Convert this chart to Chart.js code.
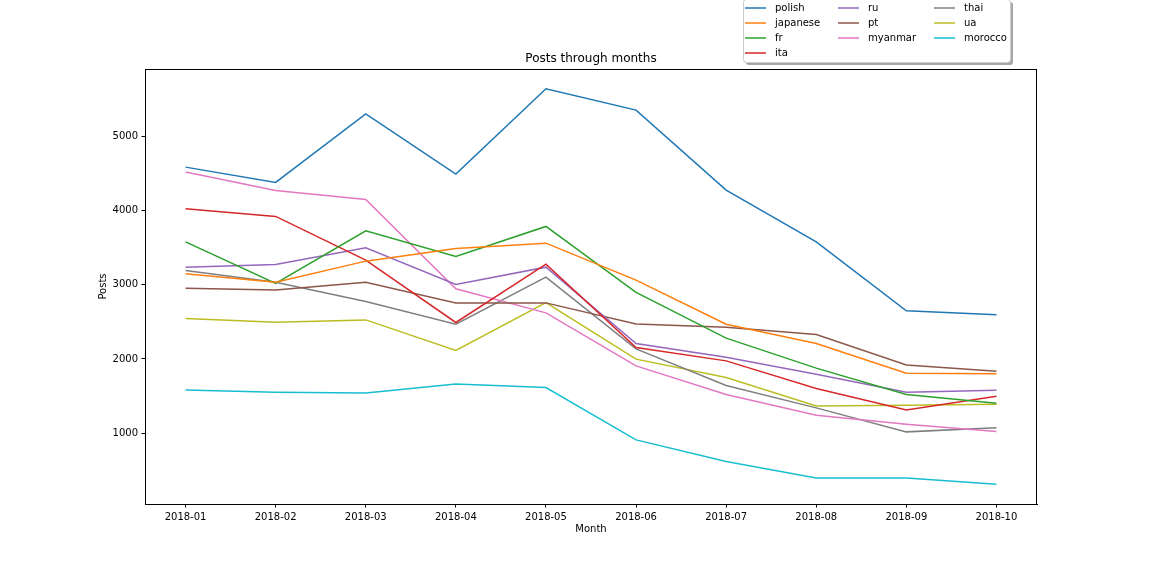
<!DOCTYPE html>
<html>
<head>
<meta charset="utf-8">
<script src="https://cdn.jsdelivr.net/npm/chart.js@4.4.1/dist/chart.umd.min.js"></script>
<style>html,body{margin:0;padding:0;background:#fff;}canvas{display:block;}</style>
</head>
<body>
<canvas id="c" width="1152" height="576"></canvas>
<script>
const months = ['2018-01','2018-02','2018-03','2018-04','2018-05','2018-06','2018-07','2018-08','2018-09','2018-10'];
const yTicks = [1000, 2000, 3000, 4000, 5000];
const seriesNames = ['polish','japanese','fr','ita','ru','pt','myanmar','thai','ua','morocco'];
const polish   = [4583, 4377, 5301, 4489, 5638, 5351, 4273, 3577, 2648, 2594];
const japanese = [3146, 3034, 3317, 3488, 3559, 3061, 2468, 2208, 1808, 1799];
const fr       = [3577, 3016, 3725, 3380, 3784, 2895, 2280, 1876, 1521, 1404];
const ita      = [4022, 3919, 3330, 2491, 3276, 2154, 1974, 1602, 1314, 1498];
const ru       = [3236, 3272, 3496, 3003, 3236, 2208, 2024, 1795, 1552, 1579];
const pt       = [2953, 2930, 3034, 2755, 2755, 2472, 2428, 2329, 1920, 1835];
const myanmar  = [4516, 4269, 4148, 2944, 2621, 1907, 1521, 1242, 1121, 1023];
const thai     = [3191, 3034, 2774, 2468, 3101, 2136, 1642, 1341, 1018, 1072];
const ua       = [2545, 2495, 2526, 2114, 2760, 1997, 1750, 1368, 1377, 1391];
const morocco  = [1583, 1552, 1543, 1664, 1615,  910,  619,  398,  398,  313];
const seriesValues = [polish, japanese, fr, ita, ru, pt, myanmar, thai, ua, morocco];
const colors = ['#1f77b4','#ff7f0e','#2ca02c','#d62728','#9467bd','#8c564b','#e377c2','#7f7f7f','#bcbd22','#17becf'];
const chartTitle = 'Posts through months';

const FONT = 'DejaVu Sans';
const all = seriesValues.flat();
const dMin = Math.min(...all), dMax = Math.max(...all);
const margin = (dMax - dMin) * 0.05;
const xMargin = (months.length - 1) * 0.05;

const datasets = seriesNames.map((name, i) => ({
  label: name,
  data: seriesValues[i].map((v, j) => ({x: j, y: v})),
  borderColor: colors[i],
  backgroundColor: colors[i],
  borderWidth: 1.5,
  pointRadius: 0,
  pointHoverRadius: 0,
  tension: 0,
  fill: false
}));

const framePlugin = {
  id: 'frame',
  beforeDraw(chart) {
    const ctx = chart.ctx;
    ctx.save();
    ctx.fillStyle = '#ffffff';
    ctx.fillRect(0, 0, chart.width, chart.height);
    ctx.restore();
  },
  afterDraw(chart) {
    const ctx = chart.ctx;
    const a = chart.chartArea;
    ctx.save();
    ctx.strokeStyle = '#000';
    ctx.lineWidth = 1;
    ctx.strokeRect(Math.round(a.left) + 0.5, Math.round(a.top) + 0.5, Math.round(a.right - a.left) - 1, Math.round(a.bottom - a.top));
    // title centred over the axes
    ctx.fillStyle = '#000';
    ctx.font = '12px "' + FONT + '"';
    ctx.textAlign = 'center';
    ctx.textBaseline = 'middle';
    ctx.fillText(chartTitle, (a.left + a.right) / 2, a.top - 10);
    ctx.restore();

    // legend (matplotlib style, 3 columns, column-major)
    const n = chart.data.datasets.length;
    const ncol = 3;
    const nrows = Math.ceil(n / ncol);
    const nLarge = n % ncol === 0 ? ncol : n % ncol;
    const colCounts = [];
    for (let c = 0; c < ncol; c++) colCounts.push(c < nLarge ? nrows : nrows - 1);
    const bx = 743, by = -1, bw = 267, bh = 63, r = 3;
    ctx.save();
    const rr = (x, y, w, h, rad) => {
      ctx.beginPath();
      ctx.moveTo(x + rad, y);
      ctx.lineTo(x + w - rad, y);
      ctx.quadraticCurveTo(x + w, y, x + w, y + rad);
      ctx.lineTo(x + w, y + h - rad);
      ctx.quadraticCurveTo(x + w, y + h, x + w - rad, y + h);
      ctx.lineTo(x + rad, y + h);
      ctx.quadraticCurveTo(x, y + h, x, y + h - rad);
      ctx.lineTo(x, y + rad);
      ctx.quadraticCurveTo(x, y, x + rad, y);
      ctx.closePath();
    };
    rr(bx + 3, by + 3, bw, bh, r);
    ctx.fillStyle = 'rgba(77,77,77,0.5)';
    ctx.fill();
    rr(bx + 0.5, by + 0.5, bw, bh, r);
    ctx.fillStyle = '#ffffff';
    ctx.fill();
    ctx.strokeStyle = '#cccccc';
    ctx.lineWidth = 1;
    ctx.stroke();
    const handleX = [745, 838, 934];
    const textX = [775, 868, 964];
    ctx.font = '10px "' + FONT + '"';
    ctx.textBaseline = 'middle';
    ctx.textAlign = 'left';
    let idx = 0;
    for (let c = 0; c < ncol; c++) {
      for (let rI = 0; rI < colCounts[c]; rI++) {
        const ds = chart.data.datasets[idx++];
        const y = 8 + rI * 15;
        ctx.strokeStyle = ds.borderColor;
        ctx.lineWidth = 1.5;
        ctx.beginPath();
        ctx.moveTo(handleX[c], y);
        ctx.lineTo(handleX[c] + 21, y);
        ctx.stroke();
        ctx.fillStyle = '#000';
        ctx.fillText(ds.label, textX[c], y);
      }
    }
    ctx.restore();
  }
};

new Chart(document.getElementById('c'), {
  type: 'line',
  data: { datasets },
  plugins: [framePlugin],
  options: {
    responsive: false,
    devicePixelRatio: 1,
    animation: false,
    events: [],
    layout: { padding: { left: 95, right: 115, top: 69, bottom: 22 } },
    plugins: {
      legend: { display: false },
      tooltip: { enabled: false },
      title: { display: false }
    },
    scales: {
      x: {
        type: 'linear',
        min: -xMargin,
        max: months.length - 1 + xMargin,
        afterBuildTicks: s => { s.ticks = months.map((_, i) => ({ value: i })); },
        afterFit: s => { s.height = 50; },
        ticks: {
          autoSkip: false,
          maxRotation: 0,
          minRotation: 0,
          padding: 3.5,
          color: '#000',
          font: { family: FONT, size: 10 },
          callback: v => months[v]
        },
        grid: { display: true, drawOnChartArea: false, drawTicks: true, tickLength: 3.5, color: '#000', tickWidth: 1 },
        border: { display: true, color: '#000', width: 1 },
        title: { display: true, text: 'Month', color: '#000', font: { family: FONT, size: 10, lineHeight: 1.2 }, padding: { top: 0, bottom: 19 } }
      },
      y: {
        type: 'linear',
        min: dMin - margin,
        max: dMax + margin,
        afterBuildTicks: s => { s.ticks = yTicks.map(v => ({ value: v })); },
        afterFit: s => { s.width = 50; },
        ticks: {
          padding: 3.5,
          color: '#000',
          font: { family: FONT, size: 10 },
          callback: v => String(v)
        },
        grid: { display: true, drawOnChartArea: false, drawTicks: true, tickLength: 3.5, color: '#000', tickWidth: 1 },
        border: { display: true, color: '#000', width: 1 },
        title: { display: true, text: 'Posts', color: '#000', font: { family: FONT, size: 10, lineHeight: 1.2 }, padding: { top: 2, bottom: 0 } }
      }
    }
  }
});
</script>
</body>
</html>
